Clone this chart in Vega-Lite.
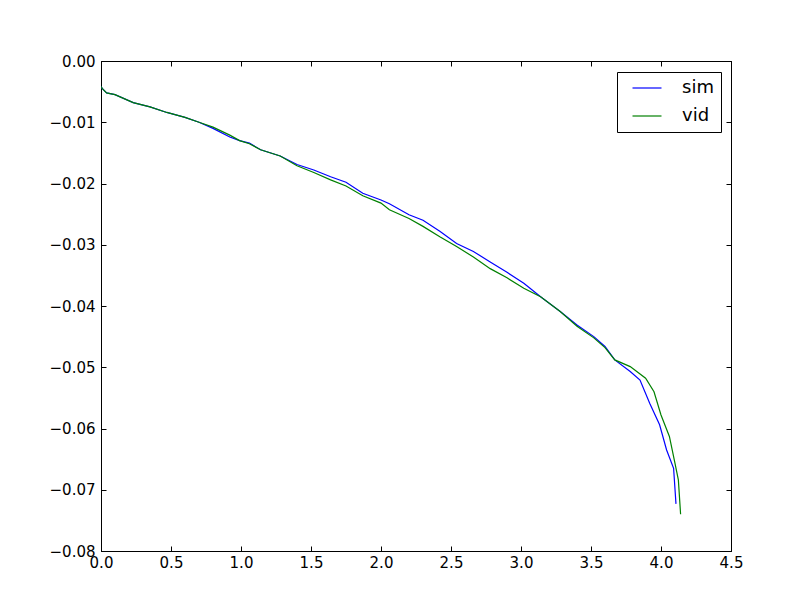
{
  "$schema": "https://vega.github.io/schema/vega-lite/v6.json",
  "width": 630,
  "height": 490,
  "autosize": {"type": "none"},
  "padding": {"left": 101, "top": 61, "right": 81, "bottom": 61},
  "background": "white",
  "config": {
    "view": {"stroke": "black", "strokeWidth": 1},
    "font": "DejaVu Sans",
    "axis": {
      "grid": false,
      "domainColor": "black",
      "tickColor": "black",
      "labelColor": "black",
      "labelFont": "DejaVu Sans",
      "labelFontSize": 15,
      "tickSize": -5,
      "title": null
    }
  },
  "data": {
    "values": [
      {"t": 0.0, "v": -0.0042, "s": "sim"},
      {"t": 0.01, "v": -0.0045, "s": "sim"},
      {"t": 0.04, "v": -0.0052, "s": "sim"},
      {"t": 0.1, "v": -0.0055, "s": "sim"},
      {"t": 0.23, "v": -0.0068, "s": "sim"},
      {"t": 0.35, "v": -0.0075, "s": "sim"},
      {"t": 0.47, "v": -0.0084, "s": "sim"},
      {"t": 0.6, "v": -0.0092, "s": "sim"},
      {"t": 0.7, "v": -0.0100, "s": "sim"},
      {"t": 0.8, "v": -0.0110, "s": "sim"},
      {"t": 0.92, "v": -0.0124, "s": "sim"},
      {"t": 0.99, "v": -0.0130, "s": "sim"},
      {"t": 1.06, "v": -0.0134, "s": "sim"},
      {"t": 1.14, "v": -0.0145, "s": "sim"},
      {"t": 1.28, "v": -0.0155, "s": "sim"},
      {"t": 1.4, "v": -0.0169, "s": "sim"},
      {"t": 1.52, "v": -0.0178, "s": "sim"},
      {"t": 1.64, "v": -0.0189, "s": "sim"},
      {"t": 1.75, "v": -0.0198, "s": "sim"},
      {"t": 1.87, "v": -0.0216, "s": "sim"},
      {"t": 2.0, "v": -0.0227, "s": "sim"},
      {"t": 2.06, "v": -0.0233, "s": "sim"},
      {"t": 2.2, "v": -0.0251, "s": "sim"},
      {"t": 2.3, "v": -0.0260, "s": "sim"},
      {"t": 2.42, "v": -0.0278, "s": "sim"},
      {"t": 2.54, "v": -0.0298, "s": "sim"},
      {"t": 2.66, "v": -0.0311, "s": "sim"},
      {"t": 2.78, "v": -0.0328, "s": "sim"},
      {"t": 2.9, "v": -0.0345, "s": "sim"},
      {"t": 3.02, "v": -0.0363, "s": "sim"},
      {"t": 3.14, "v": -0.0385, "s": "sim"},
      {"t": 3.28, "v": -0.0409, "s": "sim"},
      {"t": 3.4, "v": -0.0431, "s": "sim"},
      {"t": 3.52, "v": -0.0450, "s": "sim"},
      {"t": 3.6, "v": -0.0466, "s": "sim"},
      {"t": 3.67, "v": -0.0488, "s": "sim"},
      {"t": 3.78, "v": -0.0507, "s": "sim"},
      {"t": 3.85, "v": -0.0521, "s": "sim"},
      {"t": 3.92, "v": -0.0559, "s": "sim"},
      {"t": 3.99, "v": -0.0594, "s": "sim"},
      {"t": 4.04, "v": -0.0635, "s": "sim"},
      {"t": 4.09, "v": -0.0665, "s": "sim"},
      {"t": 4.107, "v": -0.0723, "s": "sim"},
      {"t": 0.0, "v": -0.0042, "s": "vid"},
      {"t": 0.01, "v": -0.0045, "s": "vid"},
      {"t": 0.04, "v": -0.0052, "s": "vid"},
      {"t": 0.1, "v": -0.0055, "s": "vid"},
      {"t": 0.23, "v": -0.0068, "s": "vid"},
      {"t": 0.35, "v": -0.0075, "s": "vid"},
      {"t": 0.47, "v": -0.0084, "s": "vid"},
      {"t": 0.6, "v": -0.0092, "s": "vid"},
      {"t": 0.7, "v": -0.0100, "s": "vid"},
      {"t": 0.8, "v": -0.0108, "s": "vid"},
      {"t": 0.92, "v": -0.0121, "s": "vid"},
      {"t": 0.99, "v": -0.0130, "s": "vid"},
      {"t": 1.06, "v": -0.0135, "s": "vid"},
      {"t": 1.14, "v": -0.0145, "s": "vid"},
      {"t": 1.28, "v": -0.0155, "s": "vid"},
      {"t": 1.4, "v": -0.0171, "s": "vid"},
      {"t": 1.52, "v": -0.0182, "s": "vid"},
      {"t": 1.64, "v": -0.0194, "s": "vid"},
      {"t": 1.75, "v": -0.0204, "s": "vid"},
      {"t": 1.87, "v": -0.0220, "s": "vid"},
      {"t": 2.0, "v": -0.0232, "s": "vid"},
      {"t": 2.06, "v": -0.0243, "s": "vid"},
      {"t": 2.2, "v": -0.0257, "s": "vid"},
      {"t": 2.3, "v": -0.0270, "s": "vid"},
      {"t": 2.42, "v": -0.0287, "s": "vid"},
      {"t": 2.54, "v": -0.0303, "s": "vid"},
      {"t": 2.66, "v": -0.0320, "s": "vid"},
      {"t": 2.78, "v": -0.0339, "s": "vid"},
      {"t": 2.9, "v": -0.0354, "s": "vid"},
      {"t": 3.02, "v": -0.0371, "s": "vid"},
      {"t": 3.14, "v": -0.0385, "s": "vid"},
      {"t": 3.28, "v": -0.0409, "s": "vid"},
      {"t": 3.4, "v": -0.0433, "s": "vid"},
      {"t": 3.52, "v": -0.0452, "s": "vid"},
      {"t": 3.6, "v": -0.0468, "s": "vid"},
      {"t": 3.67, "v": -0.0488, "s": "vid"},
      {"t": 3.78, "v": -0.0499, "s": "vid"},
      {"t": 3.89, "v": -0.0518, "s": "vid"},
      {"t": 3.95, "v": -0.0540, "s": "vid"},
      {"t": 4.0, "v": -0.0578, "s": "vid"},
      {"t": 4.06, "v": -0.0613, "s": "vid"},
      {"t": 4.1, "v": -0.0657, "s": "vid"},
      {"t": 4.124, "v": -0.0684, "s": "vid"},
      {"t": 4.14, "v": -0.0740, "s": "vid"}
    ]
  },
  "layer": [
    {
      "mark": {"type": "line", "strokeWidth": 1.2, "clip": true},
      "encoding": {
        "x": {
          "field": "t", "type": "quantitative",
          "scale": {"domain": [0, 4.5], "nice": false, "zero": false},
          "axis": {"orient": "bottom", "values": [0, 0.5, 1, 1.5, 2, 2.5, 3, 3.5, 4, 4.5], "format": ".1f", "labelPadding": 9, "labelFlush": false}
        },
        "y": {
          "field": "v", "type": "quantitative",
          "scale": {"domain": [-0.08, 0], "nice": false, "zero": false},
          "axis": {"orient": "left", "values": [-0.08, -0.07, -0.06, -0.05, -0.04, -0.03, -0.02, -0.01, 0], "format": ".2f", "labelPadding": 11, "labelFlush": false}
        },
        "color": {
          "field": "s", "type": "nominal",
          "scale": {"domain": ["sim", "vid"], "range": ["#0000ff", "#008000"]},
          "legend": {
            "title": null,
            "orient": "none",
            "legendX": 516,
            "legendY": 11,
            "symbolType": "M-2,0H2",
            "symbolSize": 210,
            "symbolStrokeWidth": 1.2,
            "symbolOffset": 14,
            "labelFontSize": 18,
            "labelFont": "DejaVu Sans",
            "labelColor": "black",
            "labelOffset": 26,
            "rowPadding": 10,
            "padding": 7,
            "strokeColor": "black",
            "fillColor": "white",
            "cornerRadius": 0
          }
        },
        "detail": {"field": "s"}
      }
    },
    {
      "mark": {"type": "line", "opacity": 0},
      "encoding": {
        "x": {
          "field": "t", "type": "quantitative",
          "scale": {"domain": [0, 4.5], "nice": false, "zero": false},
          "axis": {"orient": "top", "values": [0, 0.5, 1, 1.5, 2, 2.5, 3, 3.5, 4, 4.5], "labels": false}
        },
        "y": {
          "field": "v", "type": "quantitative",
          "scale": {"domain": [-0.08, 0], "nice": false, "zero": false},
          "axis": {"orient": "right", "values": [-0.08, -0.07, -0.06, -0.05, -0.04, -0.03, -0.02, -0.01, 0], "labels": false}
        },
        "detail": {"field": "s"}
      }
    }
  ],
  "resolve": {"axis": {"x": "independent", "y": "independent"}}
}
